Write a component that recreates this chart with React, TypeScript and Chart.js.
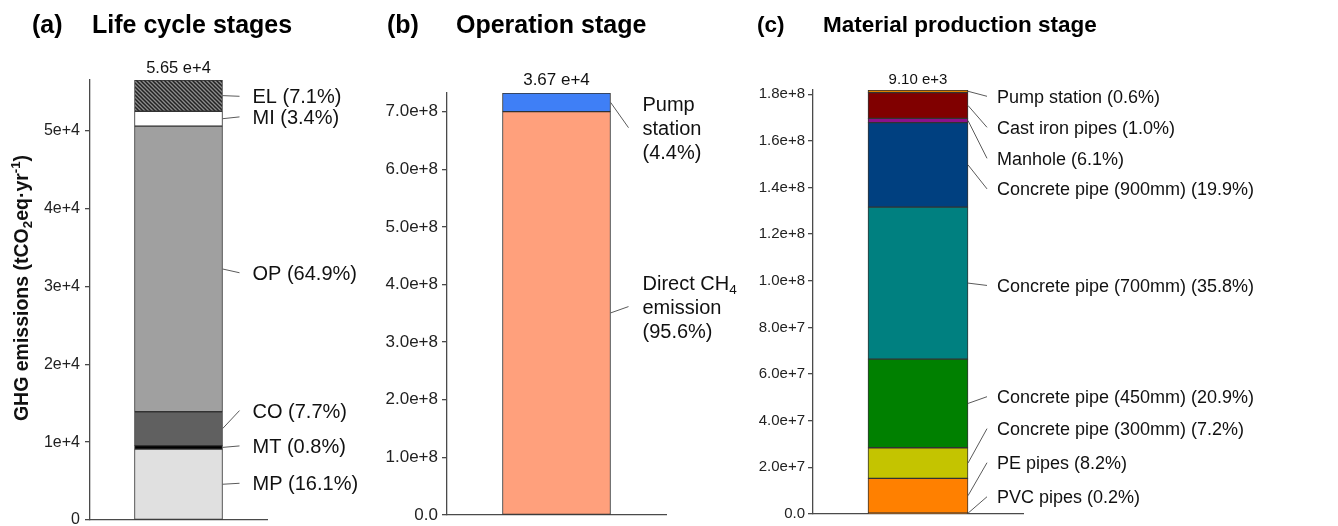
import React, { useEffect, useRef } from "react";
import { Chart, registerables } from "chart.js";

Chart.register(...registerables);

const FONT = "'Liberation Sans', Arial, Helvetica, sans-serif";

type Part = { t: string; sub?: boolean; sup?: boolean };

// ---------------- Panel (a): Life cycle stages ----------------
const CATEGORIES_A = ["Life cycle stages"];
const SERIES_A = ["MP", "MT", "CO", "OP", "MI", "EL"];
const VALUES_A = [9097, 452, 4350, 36669, 1921, 4011];
const COLORS_A = ["#e0e0e0", "#000000", "#606060", "#a0a0a0", "#ffffff", "hatch"];
const LABELS_A = ["MP (16.1%)", "MT (0.8%)", "CO (7.7%)", "OP (64.9%)", "MI (3.4%)", "EL (7.1%)"];
const LABEL_Y_A = [4717, 9512, 14049, 31748, 51761, 54409];
const TICKS_A = [0, 10000, 20000, 30000, 40000, 50000];
const TICK_LABELS_A = ["0", "1e+4", "2e+4", "3e+4", "4e+4", "5e+4"];
const TOTAL_A = "5.65 e+4";

// ---------------- Panel (b): Operation stage ----------------
const CATEGORIES_B = ["Operation stage"];
const SERIES_B = ["Direct CH4 emission", "Pump station"];
const VALUES_B = [7.0e8, 3.22e7];
const COLORS_B = ["#ffa07c", "#3f7ff6"];
const LABELS_B: Part[][][] = [
  [[{ t: "Direct CH" }, { t: "4", sub: true }], [{ t: "emission" }], [{ t: "(95.6%)" }]],
  [[{ t: "Pump" }], [{ t: "station" }], [{ t: "(4.4%)" }]],
];
const LABEL_Y_B = [3.616e8, 6.72e8];
const TICKS_B = [0, 1e8, 2e8, 3e8, 4e8, 5e8, 6e8, 7e8];
const TICK_LABELS_B = ["0.0", "1.0e+8", "2.0e+8", "3.0e+8", "4.0e+8", "5.0e+8", "6.0e+8", "7.0e+8"];
const TOTAL_B = "3.67 e+4";

// ---------------- Panel (c): Material production stage ----------------
const CATEGORIES_C = ["Material production stage"];
const SERIES_C = [
  "PVC pipes",
  "PE pipes",
  "Concrete pipe (300mm)",
  "Concrete pipe (450mm)",
  "Concrete pipe (700mm)",
  "Concrete pipe (900mm)",
  "Manhole",
  "Cast iron pipes",
  "Pump station",
];
const VALUES_C = [0.4e6, 14.9e6, 13.1e6, 38.0e6, 65.2e6, 36.2e6, 1.8e6, 11.1e6, 1.1e6];
const COLORS_C = ["#ff8000", "#ff8000", "#c4c400", "#008000", "#008080", "#004080", "#8b108b", "#800000", "#dd8000"];
const LABELS_C = [
  "PVC pipes (0.2%)",
  "PE pipes (8.2%)",
  "Concrete pipe (300mm) (7.2%)",
  "Concrete pipe (450mm) (20.9%)",
  "Concrete pipe (700mm) (35.8%)",
  "Concrete pipe (900mm) (19.9%)",
  "Manhole (6.1%)",
  "Cast iron pipes (1.0%)",
  "Pump station (0.6%)",
];
const LABEL_Y_C = [7.4e6, 22.0e6, 36.6e6, 50.3e6, 98.0e6, 139.4e6, 152.5e6, 165.8e6, 179.1e6];
const TICKS_C = [0, 2e7, 4e7, 6e7, 8e7, 1e8, 1.2e8, 1.4e8, 1.6e8, 1.8e8];
const TICK_LABELS_C = ["0.0", "2.0e+7", "4.0e+7", "6.0e+7", "8.0e+7", "1.0e+8", "1.2e+8", "1.4e+8", "1.6e+8", "1.8e+8"];
const TOTAL_C = "9.10 e+3";

const Y_TITLE_A: Part[] = [
  { t: "GHG emissions (tCO" },
  { t: "2", sub: true },
  { t: "eq·yr" },
  { t: "-1", sup: true },
  { t: ")" },
];

type Panel = {
  left: number;
  width: number;
  padTop: number;
  padBottom: number;
  padRight: number;
  yAxisWidth: number;
  categories: string[];
  series: string[];
  values: number[];
  colors: string[];
  labels: Part[][][];
  labelY: number[];
  ticks: number[];
  tickLabels: string[];
  tickFont: number;
  tickPad: number;
  total: string;
  totalFont: number;
  totalGap: number;
  barWidth: number;
  labelFont: number;
  lineGap: number;
  leaderEnd: number;
  textOffset: number;
  tag: string;
  title: string;
  tagX: number;
  titleX: number;
  titleFont: number;
  yTitle?: Part[];
};

const simple = (arr: string[]): Part[][][] => arr.map((s) => [[{ t: s }]]);

const PANELS: Panel[] = [
  {
    left: 0, width: 370, padTop: 80, padBottom: 6, padRight: 103, yAxisWidth: 90,
    categories: CATEGORIES_A, series: SERIES_A, values: VALUES_A, colors: COLORS_A,
    labels: simple(LABELS_A), labelY: LABEL_Y_A, ticks: TICKS_A, tickLabels: TICK_LABELS_A,
    tickFont: 16, tickPad: 5, total: TOTAL_A, totalFont: 16.5, totalGap: 12,
    barWidth: 88, labelFont: 20, lineGap: 24, leaderEnd: 17, textOffset: 30,
    tag: "(a)", title: "Life cycle stages", tagX: 32, titleX: 92, titleFont: 25, yTitle: Y_TITLE_A,
  },
  {
    left: 370, width: 370, padTop: 93, padBottom: 11, padRight: 74, yAxisWidth: 77,
    categories: CATEGORIES_B, series: SERIES_B, values: VALUES_B, colors: COLORS_B,
    labels: LABELS_B, labelY: LABEL_Y_B, ticks: TICKS_B, tickLabels: TICK_LABELS_B,
    tickFont: 17, tickPad: 4, total: TOTAL_B, totalFont: 17, totalGap: 13,
    barWidth: 108, labelFont: 20, lineGap: 24, leaderEnd: 18, textOffset: 32,
    tag: "(b)", title: "Operation stage", tagX: 387, titleX: 456, titleFont: 25,
  },
  {
    left: 740, width: 598, padTop: 90, padBottom: 12, padRight: 315, yAxisWidth: 73,
    categories: CATEGORIES_C, series: SERIES_C, values: VALUES_C, colors: COLORS_C,
    labels: simple(LABELS_C), labelY: LABEL_Y_C, ticks: TICKS_C, tickLabels: TICK_LABELS_C,
    tickFont: 15, tickPad: 3, total: TOTAL_C, totalFont: 15, totalGap: 10,
    barWidth: 100, labelFont: 18, lineGap: 24, leaderEnd: 19, textOffset: 29,
    tag: "(c)", title: "Material production stage", tagX: 757, titleX: 823, titleFont: 22.5,
  },
];

function drawRich(
  ctx: CanvasRenderingContext2D,
  parts: Part[],
  x: number,
  cy: number,
  size: number,
  weight: string,
  color: string,
  align: "left" | "center" = "left"
) {
  const base = cy + size * 0.36;
  const sizes = parts.map((p) => (p.sub || p.sup ? size * 0.68 : size));
  const widths = parts.map((p, i) => {
    ctx.font = `${weight} ${sizes[i]}px ${FONT}`;
    return ctx.measureText(p.t).width;
  });
  const total = widths.reduce((a, b) => a + b, 0);
  let cx = align === "center" ? x - total / 2 : x;
  ctx.fillStyle = color;
  ctx.textAlign = "left";
  ctx.textBaseline = "alphabetic";
  parts.forEach((p, i) => {
    ctx.font = `${weight} ${sizes[i]}px ${FONT}`;
    const dy = p.sub ? size * 0.22 : p.sup ? -size * 0.42 : 0;
    ctx.fillText(p.t, cx, base + dy);
    cx += widths[i];
  });
}

function makeHatch(): CanvasPattern | string {
  const c = document.createElement("canvas");
  c.width = 4;
  c.height = 4;
  const g = c.getContext("2d");
  if (!g) return "#555";
  g.fillStyle = "#8c8c8c";
  g.fillRect(0, 0, 4, 4);
  g.strokeStyle = "#222222";
  g.lineWidth = 1.5;
  g.beginPath();
  g.moveTo(-1, -1);
  g.lineTo(5, 5);
  g.moveTo(-1, 3);
  g.lineTo(1, 5);
  g.moveTo(3, -1);
  g.lineTo(5, 1);
  g.stroke();
  return g.createPattern(c, "repeat") || "#555";
}

function annotPlugin(p: Panel) {
  return {
    id: "annot",
    afterDraw(chart: any) {
      const ctx: CanvasRenderingContext2D = chart.ctx;
      const yScale = chart.scales.y;
      ctx.save();
      // titles
      ctx.fillStyle = "#000";
      ctx.font = `bold ${p.titleFont}px ${FONT}`;
      ctx.textAlign = "left";
      ctx.textBaseline = "middle";
      ctx.fillText(p.tag, p.tagX - p.left, 26);
      ctx.fillText(p.title, p.titleX - p.left, 26);

      // labels and leaders
      let topPx = Infinity;
      let barX = 0;
      p.series.forEach((_, i) => {
        const el: any = chart.getDatasetMeta(i).data[0];
        const right = el.x + el.width / 2;
        barX = el.x;
        const top = Math.min(el.y, el.base);
        topPx = Math.min(topPx, top);
        const ay = (el.y + el.base) / 2;
        const ty = yScale.getPixelForValue(p.labelY[i]);
        ctx.strokeStyle = "#5a5a5a";
        ctx.lineWidth = 1;
        ctx.beginPath();
        ctx.moveTo(right, ay);
        ctx.lineTo(right + p.leaderEnd, ty);
        ctx.stroke();
        const lines = p.labels[i];
        const n = lines.length;
        lines.forEach((line, k) => {
          const ly = ty + (k - (n - 1) / 2) * p.lineGap;
          drawRich(ctx, line, right + p.textOffset, ly, p.labelFont, "normal", "#111");
        });
      });

      // total on top
      ctx.fillStyle = "#111";
      ctx.font = `${p.totalFont}px ${FONT}`;
      ctx.textAlign = "center";
      ctx.textBaseline = "middle";
      ctx.fillText(p.total, barX, topPx - p.totalGap);

      // y title
      if (p.yTitle) {
        ctx.save();
        ctx.translate(21 - p.left, 288);
        ctx.rotate(-Math.PI / 2);
        drawRich(ctx, p.yTitle, 0, 0, 19.5, "bold", "#111", "center");
        ctx.restore();
      }
      ctx.restore();
    },
  };
}

function makeConfig(p: Panel, hatch: CanvasPattern | string): any {
  const total = p.values.reduce((a, b) => a + b, 0);
  return {
    type: "bar",
    data: {
      labels: p.categories,
      datasets: p.series.map((name, i) => ({
        label: name,
        data: [p.values[i]],
        backgroundColor: p.colors[i] === "hatch" ? hatch : p.colors[i],
        borderColor: "#333333",
        borderWidth: 1,
        borderSkipped: false,
        barThickness: p.barWidth,
        stack: "s",
      })),
    },
    options: {
      animation: false,
      responsive: false,
      maintainAspectRatio: false,
      layout: { padding: { top: p.padTop, bottom: p.padBottom, left: 0, right: p.padRight } },
      plugins: {
        legend: { display: false },
        tooltip: { enabled: false },
        title: { display: false },
      },
      scales: {
        x: {
          stacked: true,
          grid: { display: false },
          ticks: { display: false },
          border: { display: true, color: "#4a4a4a", width: 1.3 },
          afterFit: (s: any) => {
            s.height = 0;
            s.paddingLeft = 0;
            s.paddingRight = 0;
          },
        },
        y: {
          stacked: true,
          min: 0,
          max: total,
          afterBuildTicks: (s: any) => {
            s.ticks = p.ticks.map((v) => ({ value: v }));
          },
          ticks: {
            callback: (v: number) => {
              const idx = p.ticks.findIndex((t) => Math.abs(t - v) < 1e-6 * (Math.abs(t) + 1));
              return idx >= 0 ? p.tickLabels[idx] : "";
            },
            font: { family: FONT, size: p.tickFont },
            color: "#222",
            padding: p.tickPad,
          },
          grid: { drawOnChartArea: false, drawTicks: true, tickLength: 5, color: "#4a4a4a", lineWidth: 1.3 },
          border: { display: true, color: "#4a4a4a", width: 1.3 },
          afterFit: (s: any) => {
            s.width = p.yAxisWidth;
            s.paddingTop = 0;
            s.paddingBottom = 0;
          },
        },
      },
    },
    plugins: [annotPlugin(p)],
  };
}

export default function App() {
  const refs = useRef<(HTMLCanvasElement | null)[]>([]);

  useEffect(() => {
    const hatch = makeHatch();
    const charts = PANELS.map((p, i) => {
      const canvas = refs.current[i];
      if (!canvas) return null;
      return new Chart(canvas, makeConfig(p, hatch));
    });
    return () => {
      charts.forEach((c) => c && c.destroy());
    };
  }, []);

  return (
    <div
      style={{
        position: "fixed",
        left: 0,
        top: 0,
        width: 1338,
        height: 526,
        background: "#ffffff",
        overflow: "hidden",
      }}
    >
      {PANELS.map((p, i) => (
        <canvas
          key={i}
          ref={(el) => {
            refs.current[i] = el;
          }}
          width={p.width}
          height={526}
          style={{ position: "absolute", left: p.left, top: 0, width: p.width, height: 526 }}
        />
      ))}
    </div>
  );
}
